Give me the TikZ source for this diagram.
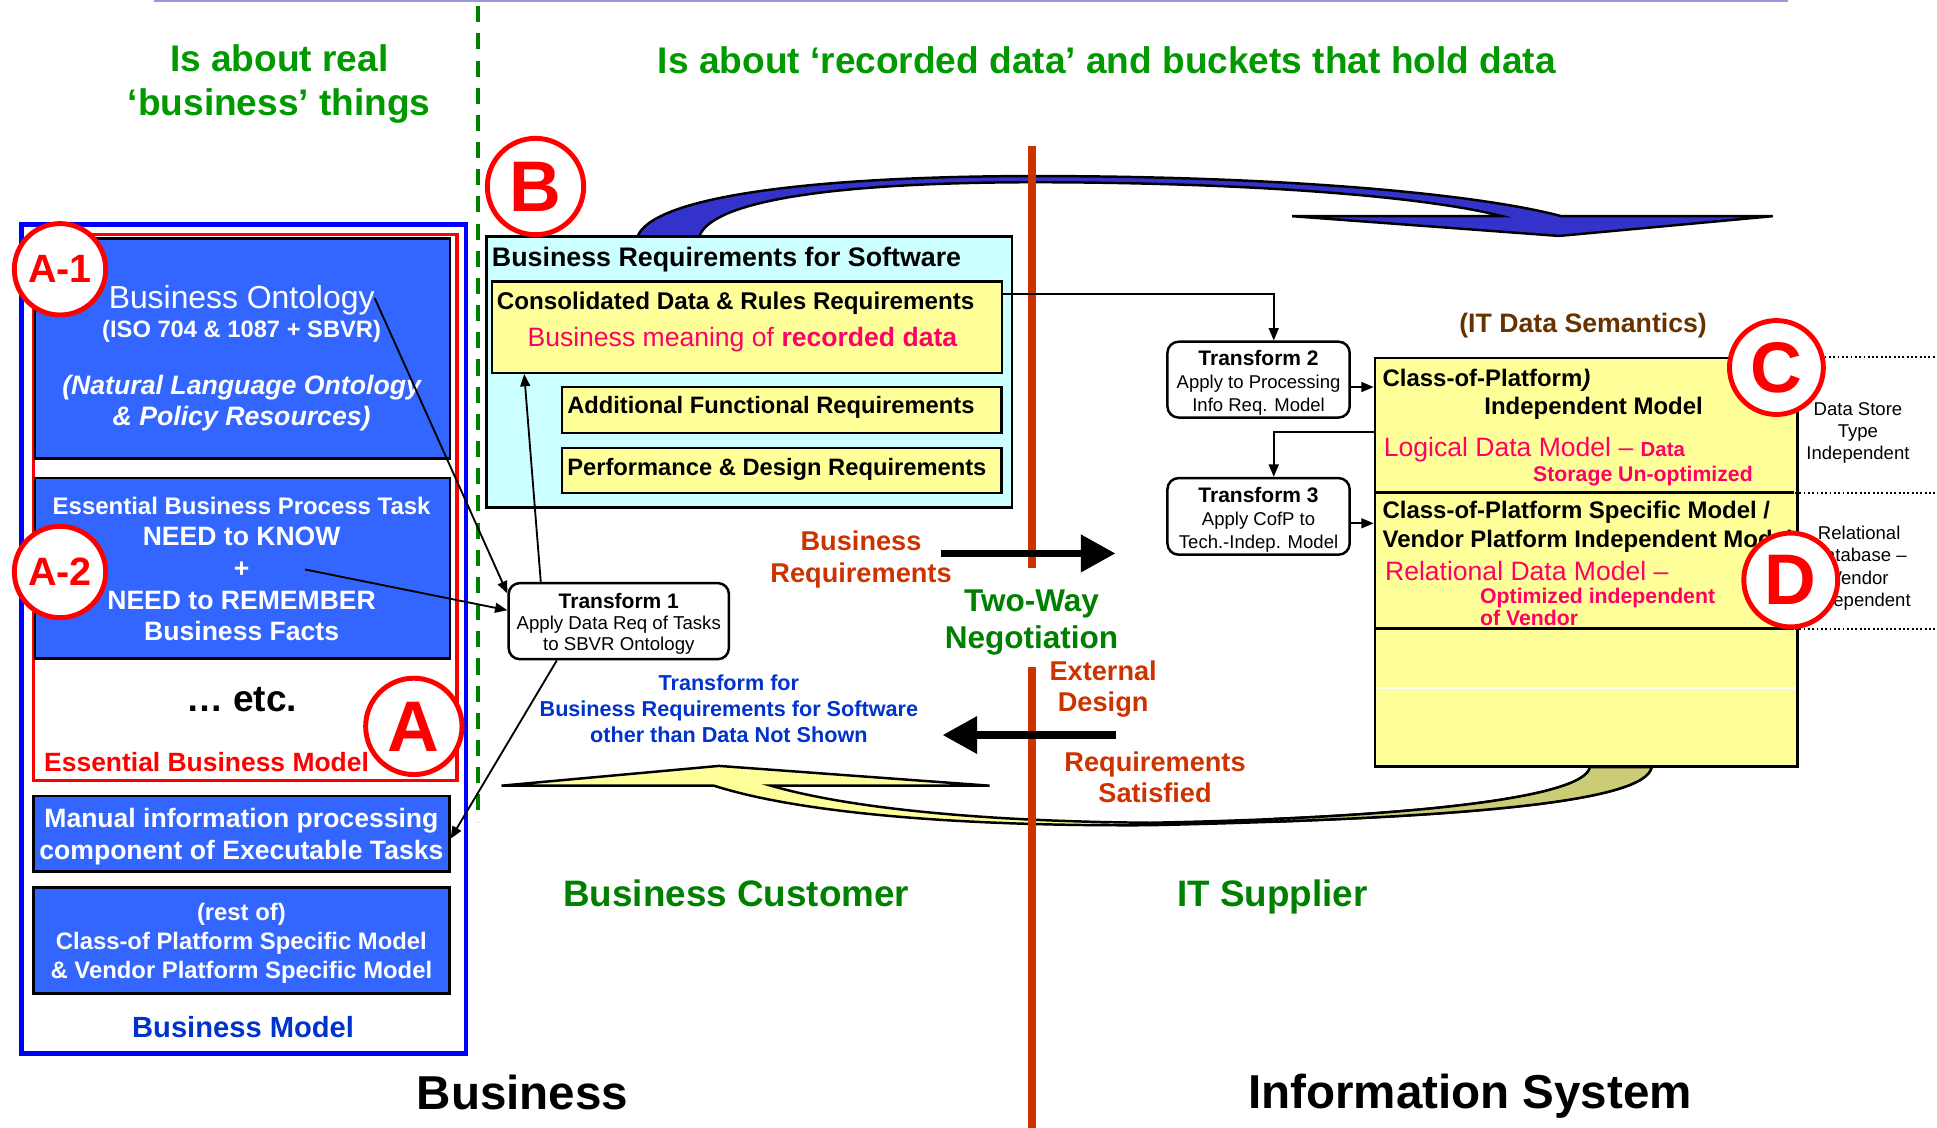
\documentclass[tikz,border=0pt]{standalone}
\usepackage{fontspec}
\setmainfont{Liberation Sans}
\usetikzlibrary{arrows.meta}
\newcommand{\fsz}[2]{\fontsize{#1pt}{#2pt}\selectfont}
\definecolor{modelblue}{HTML}{0000FF}
\definecolor{boxblue}{HTML}{3366FF}
\definecolor{ringred}{HTML}{FF0000}
\definecolor{textblue}{HTML}{0033CC}
\definecolor{palecyan}{HTML}{CCFFFF}
\definecolor{paleyellow}{HTML}{FFFF99}
\definecolor{hotpink}{HTML}{FF0066}
\definecolor{rustred}{HTML}{CC3300}
\definecolor{brightgreen}{HTML}{009900}
\definecolor{darkgreen}{HTML}{008000}
\definecolor{arrowblue}{HTML}{3333CC}
\definecolor{olivefill}{HTML}{CCCC77}
\definecolor{semanticbrown}{HTML}{663300}
\definecolor{lavender1}{HTML}{9999DD}
\begin{document}
\begin{tikzpicture}[x=1pt,y=-1pt]
\tikzstyle{every node}+=[inner sep=0pt]
\tikzstyle{bluebox}=[draw=black, line width=2pt, fill=boxblue]
\tikzstyle{whitetext}=[text=white, align=center]
\tikzstyle{yelbox}=[draw=black, line width=2pt, fill=paleyellow]
\tikzstyle{tbox}=[draw=black, line width=2pt, fill=white, rounded corners=9pt]
\tikzstyle{ring}=[circle, draw=ringred, line width=4pt, fill=white, text=ringred]
\tikzstyle{link}=[draw=black, line width=1.5pt, -{Triangle[length=10pt,width=8pt]}]
\tikzstyle{fatarrow}=[draw=black, line width=6pt, -{Triangle[length=28pt,width=29pt]}]
\useasboundingbox (0,0) rectangle (1568,913);
\draw[lavender1, line width=1.5pt] (125,0.8) -- (1447,0.8);
\draw[darkgreen, line width=2.7pt, dash pattern=on 13pt off 9pt] (387,5) -- (387,665);
\node[text=brightgreen, font=\bfseries\fsz{30}{36}, align=center] (realthings) at (226,68) {Is about real\\‘business’ things};
\node[text=brightgreen, font=\bfseries\fsz{30}{36}] (recdata) at (896,49) {Is about ‘recorded data’ and buckets that hold data};
% curved arrows
\draw[line width=2pt, fill=arrowblue] (516,191.6) .. controls (528,160) and (650,143) .. (834,142.5) .. controls (1050,142.5) and (1200,158) .. (1264,175) -- (1435,175) -- (1262,191) -- (1046,175) -- (1216,175) .. controls (1150,158) and (1000,147.5) .. (834,147.5) .. controls (660,148) and (575,165) .. (566,191.6) -- cycle;
\draw[line width=2pt, fill=paleyellow] (1337,621) .. controls (1332,648) and (1200,662) .. (931,668) .. controls (760,669) and (640,656) .. (578,636) -- (406,636) -- (582,620) -- (801,636) -- (624,636) .. controls (690,655) and (800,665) .. (931,666) .. controls (1140,662) and (1283,646) .. (1287,621) -- cycle;
\begin{scope}
\clip (1031,600) rectangle (1400,700);
\draw[line width=2pt, fill=olivefill] (1337,621) .. controls (1332,648) and (1200,662) .. (931,668) -- (931,666) .. controls (1140,662) and (1283,646) .. (1287,621) -- cycle;
\end{scope}
% left column
\node[draw=modelblue, line width=4pt, minimum width=360pt, minimum height=671pt] (bizmodel) at (197.2,517) {};
\node[draw=ringred, line width=2.7pt, minimum width=343pt, minimum height=441.5pt] (essmodel) at (198.5,410.8) {};
\node[bluebox, minimum width=336pt, minimum height=178pt] (onto) at (196.3,282) {};
\node[whitetext, font=\fsz{25.8}{30}] (ontotitle) at (195.6,243.4) {Business Ontology};
\node[whitetext, font=\bfseries\fsz{19.2}{23}] (iso) at (195.6,268) {(ISO 704 \& 1087 + SBVR)};
\node[whitetext, font=\bfseries\itshape\fsz{21.6}{25}] (natlang) at (195.6,326) {(Natural Language Ontology\\\& Policy Resources)};
\node[bluebox, minimum width=336pt, minimum height=146pt] (ebp) at (196.3,460) {};
\node[whitetext, font=\bfseries\fsz{19.4}{23}] (ebptask) at (195.6,409.6) {Essential Business Process Task};
\node[whitetext, font=\bfseries\fsz{21.5}{25.8}] (needs) at (195.6,472.7) {NEED to KNOW\\+\\NEED to REMEMBER\\Business Facts};
\coordinate (plusend) at (247,461);
\node[font=\bfseries\fsz{30}{32}] (etc) at (195.6,566.7) {… etc.};
\node[text=ringred, font=\bfseries\fsz{21.4}{25}, anchor=west] (esslabel) at (35.6,616.6) {Essential Business Model};
\node[bluebox, minimum width=336.7pt, minimum height=61.2pt] (manual) at (195.4,675) {};
\node[whitetext, font=\bfseries\fsz{21.5}{25.7}] (manualtext) at (195.4,677.5) {Manual information processing\\component of Executable Tasks};
\node[bluebox, minimum width=336.7pt, minimum height=85.7pt] (restof) at (195.4,761.2) {};
\node[whitetext, font=\bfseries\fsz{19.3}{23.3}] (restoftext) at (195.4,763.7) {(rest of)\\Class-of Platform Specific Model\\\& Vendor Platform Specific Model};
\node[text=textblue, font=\bfseries\fsz{23.6}{28}] (bmlabel) at (196.8,831.1) {Business Model};
% business requirements
\node[draw=black, line width=2pt, fill=palecyan, minimum width=425pt, minimum height=219.4pt] (brs) at (606.5,301.3) {};
\node[anchor=west, font=\bfseries\fsz{21.7}{25}] (brstitle) at (398,210.5) {Business Requirements for Software};
\node[yelbox, minimum width=412.7pt, minimum height=73.7pt] (cons) at (604.7,264.9) {};
\node[anchor=west, font=\bfseries\fsz{19.6}{23}] (constitle) at (402,245.4) {Consolidated Data \& Rules Requirements};
\node[text=hotpink, font=\fsz{21.5}{25}] (meaning) at (601,275) {Business meaning of \textbf{recorded data}};
\node[yelbox, minimum width=355.5pt, minimum height=37.3pt] (addfunc) at (632.8,332) {};
\node[anchor=west, font=\bfseries\fsz{19.2}{23}] (addtext) at (459,330) {Additional Functional Requirements};
\node[yelbox, minimum width=355.5pt, minimum height=36.2pt] (perfdes) at (632.8,380.9) {};
\node[anchor=west, font=\bfseries\fsz{19.2}{23}] (perftext) at (459,380) {Performance \& Design Requirements};
\node[tbox, minimum width=178.3pt, minimum height=61.6pt] (t1) at (500.9,502.8) {};
\node[align=center, font=\fsz{15.1}{17}] (t1text) at (500.9,504.8) {{\bfseries\fsz{17}{17}Transform 1}\\Apply Data Req of Tasks\\to SBVR Ontology};
\node[text=textblue, font=\bfseries\fsz{17.5}{21}, align=center] (otherxf) at (590,574) {Transform for\\Business Requirements for Software\\other than Data Not Shown};
% IT side
\node[tbox, minimum width=147.5pt, minimum height=61.4pt] (t2) at (1018.8,307.3) {};
\node[align=center, font=\fsz{15}{18.5}] (t2text) at (1018.8,309.8) {{\bfseries\fsz{17}{18.5}Transform 2}\\Apply to Processing\\Info Req. Model};
\node[tbox, minimum width=147.5pt, minimum height=62pt] (t3) at (1018.8,418) {};
\node[align=center, font=\fsz{15}{18.5}] (t3text) at (1018.8,420.5) {{\bfseries\fsz{17}{18.5}Transform 3}\\Apply CofP to\\Tech.-Indep. Model};
\node[yelbox, minimum width=342pt, minimum height=330.6pt] (bigbox) at (1284,455.3) {};
\draw[black, line width=2.5pt] (1114,399) -- (1452,399);
\draw[black, line width=2.5pt] (1114,509) -- (1452,509);
\draw[white, line width=1pt] (1114.5,557) -- (1454,557);
\draw[dotted, line width=1.5pt] (1477,289) -- (1568,289);
\draw[dotted, line width=1.5pt] (1453,399) -- (1568,399);
\draw[dotted, line width=1.5pt] (1453,509) -- (1568,509);
\node[text=semanticbrown, font=\bfseries\fsz{21.6}{25}] (itsem) at (1281.5,263.8) {(IT Data Semantics)};
\node[anchor=west, font=\bfseries\fsz{19.4}{23}] (cofp) at (1119,307.7) {Class-of-Platform\textit{)}};
\node[font=\bfseries\fsz{19.4}{23}] (indep) at (1290,330.7) {Independent Model};
\node[anchor=west, text=hotpink, font=\fsz{21.5}{25}] (ldm) at (1120,363.6) {Logical Data Model – {\bfseries\fsz{16.5}{20}Data}};
\node[text=hotpink, font=\bfseries\fsz{17.2}{20}] (storage) at (1330,385) {Storage Un-optimized};
\node[anchor=west, font=\bfseries\fsz{19.4}{23}] (cofpspec) at (1119,414.5) {Class-of-Platform Specific Model /};
\node[anchor=west, font=\bfseries\fsz{19.4}{23}] (vendor) at (1119,438.5) {Vendor Platform Independent Model};
\node[anchor=west, text=hotpink, font=\fsz{21.5}{25}] (rdm) at (1121,462) {Relational Data Model –};
\node[anchor=west, text=hotpink, font=\bfseries\fsz{17.2}{17.5}, align=left] (optim) at (1198,491.3) {Optimized independent\\of Vendor};
\node[font=\fsz{15}{17.7}, align=center] (dstype) at (1504,350.5) {Data Store\\Type\\Independent};
\node[font=\fsz{15}{18}, align=center] (reldb) at (1505,460) {Relational\\Database –\\Vendor\\Independent};
% negotiation
\node[text=rustred, font=\bfseries\fsz{22}{25.5}, align=center] (bizreq) at (697,453) {Business\\Requirements};
\node[text=darkgreen, font=\bfseries\fsz{25.5}{30}, align=center] (twoway) at (835,504) {Two-Way\\Negotiation};
\node[text=rustred, font=\bfseries\fsz{22}{25}, align=center] (extdesign) at (893,558) {External\\Design};
\node[text=rustred, font=\bfseries\fsz{22}{25}, align=center] (reqsat) at (935,629.5) {Requirements\\Satisfied};
\draw[rustred, line width=6.5pt] (835,118) -- (835,460);
\draw[rustred, line width=6.5pt] (835,540) -- (835,913);
\coordinate (brfrom) at (762,448);
\coordinate (brto) at (903,448);
\coordinate (rsfrom) at (903,595);
\coordinate (rsto) at (763,595);
\draw[fatarrow] (brfrom) -- (brto);
\draw[fatarrow] (rsfrom) -- (rsto);
% connectors
\draw[link] ([yshift=2pt]ontotitle.east) -- ([yshift=-9.5pt]t1.north west);
\draw[link] (plusend) -- ([yshift=-23pt]t1.north west);
\draw[link] ([xshift=27pt]t1.north west) -- ([xshift=27pt]cons.south west);
\draw[link] ([xshift=40pt]t1.south west) -- ([yshift=-4pt]manual.east);
\draw[link] ([yshift=-11pt]cons.north east) -| ([xshift=12.3pt]t2.north);
\draw[link] ([yshift=-6pt]t2.east) coordinate (t2out) -- (t2out -| bigbox.west);
\draw[link] ([yshift=-5.6pt]t3.east) coordinate (t3out) -- (t3out -| bigbox.west);
\draw[link] ([yshift=-61pt]bigbox.north west) -| ([xshift=12.3pt]t3.north);
% labels
\node[ring, minimum size=74pt, font=\bfseries\fsz{32}{32}] (ringA1) at (48.6,218) {A-1};
\node[ring, minimum size=74pt, font=\bfseries\fsz{32}{32}] (ringA2) at (48.6,463) {A-2};
\node[ring, minimum size=78pt, font=\bfseries\fsz{58}{58}] (ringA) at (335,588) {A};
\node[ring, minimum size=78pt, font=\bfseries\fsz{58}{58}] (ringB) at (433.5,151) {B};
\node[ring, minimum size=76pt, font=\bfseries\fsz{58}{58}] (ringC) at (1438,297.5) {C};
\node[ring, minimum size=76pt, font=\bfseries\fsz{58}{58}] (ringD) at (1449.6,469.5) {D};
\node[text=darkgreen, font=\bfseries\fsz{29.8}{32}] (custlabel) at (596,723) {Business Customer};
\node[text=darkgreen, font=\bfseries\fsz{29.8}{32}] (supplabel) at (1030,726) {IT Supplier};
\node[font=\bfseries\fsz{38.5}{40}] (bizlabel) at (423,884) {Business};
\node[font=\bfseries\fsz{38.5}{40}] (islabel) at (1190,887) {Information System};
\end{tikzpicture}
\end{document}
